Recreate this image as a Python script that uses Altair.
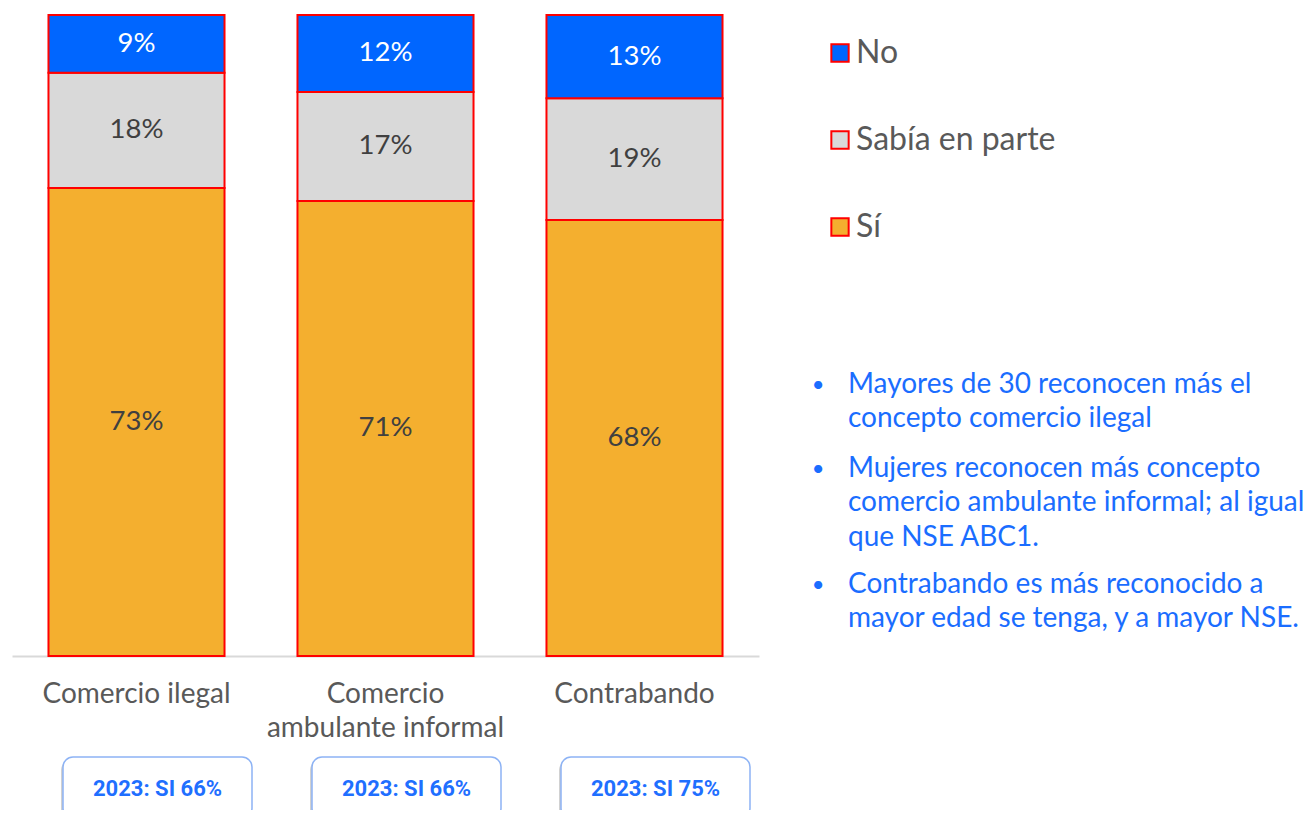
import altair as alt
import pandas as pd

categories = ["Comercio ilegal", "Comercio ambulante informal", "Contrabando"]
series = ["No", "Sabía en parte", "Sí"]
si_vals = [73, 71, 68]
parte_vals = [18, 17, 19]
no_vals = [9, 12, 13]
colors = ["#0066FF", "#D9D9D9", "#F4AF2F"]
box_labels = ["2023:  SI 66%", "2023: SI 66%", "2023: SI 75%"]
bullets = [
    ["Mayores de 30 reconocen más el", "concepto comercio ilegal"],
    ["Mujeres reconocen más concepto", "comercio ambulante informal; al igual", "que NSE ABC1."],
    ["Contrabando es más reconocido a", "mayor edad se tenga, y a mayor NSE."],
]

rows = []
for i, c in enumerate(categories):
    for s, v, o in [("Sí", si_vals[i], 1), ("Sabía en parte", parte_vals[i], 2), ("No", no_vals[i], 3)]:
        rows.append(dict(cat=c, serie=s, value=v, ord=o, label=f"{v}%"))
df = pd.DataFrame(rows)
box_df = pd.DataFrame({"cat": categories, "blabel": box_labels})

yscale = alt.Scale(domain=[0, 100])
xscale = alt.Scale(domain=categories, paddingInner=0.293, paddingOuter=0.1465)

base = (
    alt.Chart(df)
    .transform_stack(stack="value", groupby=["cat"], sort=[alt.SortField("ord", order="ascending")], as_=["y0", "y1"])
    .transform_calculate(mid="(datum.y0 + datum.y1) / 2")
)

xenc = alt.X(
    "cat:N",
    sort=categories,
    scale=xscale,
    axis=alt.Axis(
        title=None,
        labelAngle=0,
        labelFont="Lato",
        labelFontSize=28,
        labelColor="#595959",
        labelPadding=24,
        labelLimit=0,
        ticks=False,
        tickSize=0,
        domainColor="#D9D9D9",
        domainWidth=2,
        labelLineHeight=34,
        labelExpr="datum.value == 'Comercio ambulante informal' ? ['Comercio', 'ambulante informal'] : datum.value",
    ),
)

bars = base.mark_bar(stroke="#FF0000", strokeWidth=2).encode(
    x=xenc,
    y=alt.Y("y0:Q", scale=yscale, axis=None),
    y2="y1:Q",
    color=alt.Color(
        "serie:N",
        scale=alt.Scale(domain=series, range=colors),
        legend=alt.Legend(
            title=None,
            orient="none",
            legendX=812,
            legendY=22,
            symbolType="square",
            symbolSize=300,
            symbolStrokeColor="#FF0000",
            symbolStrokeWidth=2,
            labelFont="Lato",
            labelFontSize=32,
            labelColor="#595959",
            labelOffset=0,
            labelLimit=0,
            rowPadding=55,
        ),
    ),
)

labels = base.mark_text(font="Lato", fontSize=27.5).encode(
    x=alt.X("cat:N", sort=categories, scale=xscale),
    y=alt.Y("mid:Q", scale=yscale),
    text="label:N",
    color=alt.condition(alt.datum.serie == "No", alt.value("white"), alt.value("#404040")),
)

shadow = alt.Chart(box_df).mark_bar(
    width=189, xOffset=19, cornerRadius=10, fill="#9a9a9a", opacity=0.45
).encode(x=alt.X("cat:N", sort=categories, scale=xscale), y=alt.value(745), y2=alt.value(806))

boxes = alt.Chart(box_df).mark_bar(
    width=189, xOffset=21, cornerRadius=10, fill="white", stroke="#8DB3F5", strokeWidth=1.5
).encode(x=alt.X("cat:N", sort=categories, scale=xscale), y=alt.value(742), y2=alt.value(803))

box_text = alt.Chart(box_df).mark_text(
    font="Roboto", fontWeight="bold", fontSize=22, color="#1F6FFF", dx=21
).encode(x=alt.X("cat:N", sort=categories, scale=xscale), y=alt.value(774), text="blabel:N")

one = pd.DataFrame({"a": [0]})
bullet_layers = []
for lines, ytop in zip(bullets, [356, 440, 556]):
    bullet_layers.append(
        alt.Chart(one).mark_text(
            text=lines, font="Lato", fontSize=28, color="#1A6DFF", align="left", baseline="top", lineHeight=34.3
        ).encode(x=alt.value(836), y=alt.value(ytop))
    )
    bullet_layers.append(
        alt.Chart(one).mark_text(
            text="•", font="Lato", fontSize=22, color="#1A6DFF", align="center", baseline="top"
        ).encode(x=alt.value(806), y=alt.value(ytop + 4))
    )

chart = (
    alt.layer(bars, labels, shadow, boxes, box_text, *bullet_layers)
    .properties(
        width=747,
        height=641,
        autosize=alt.AutoSizeParams(type="none"),
        padding={"left": 4, "top": 7, "right": 545, "bottom": 154},
    )
    .configure_view(strokeWidth=0)
)

chart.save("out.html", embed_options={"renderer": "svg", "actions": False})
